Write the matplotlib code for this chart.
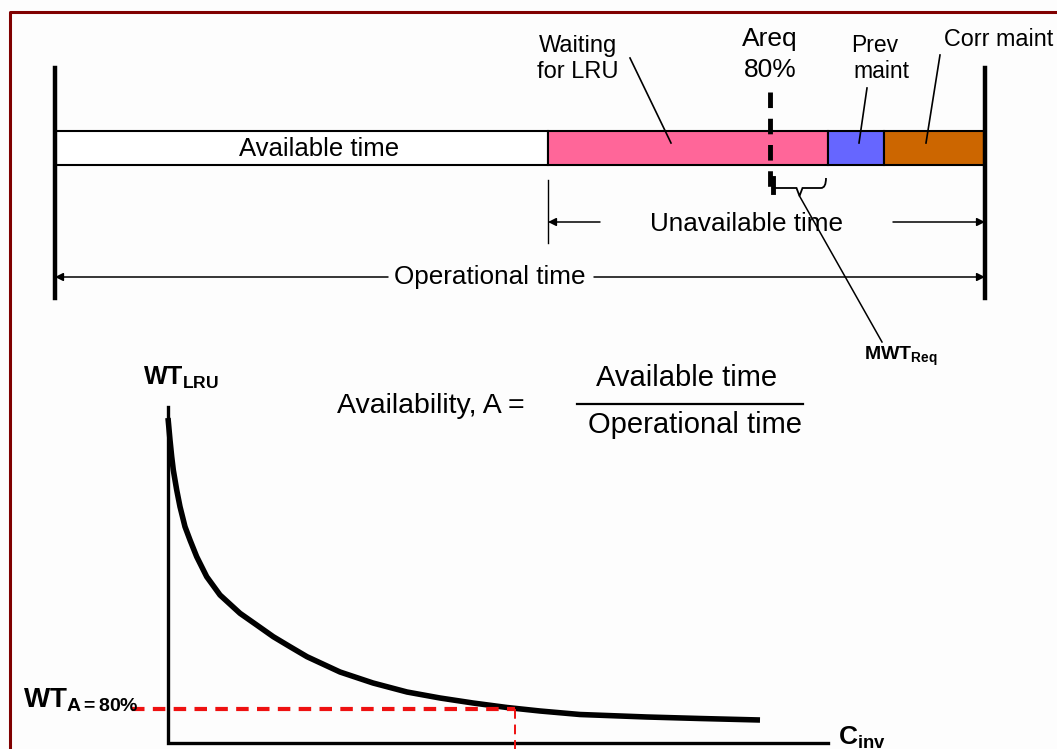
import matplotlib
matplotlib.use("Agg")
import matplotlib.pyplot as plt
from matplotlib.path import Path
from matplotlib.patches import Rectangle, PathPatch

plt.rcParams['font.family'] = ['Liberation Sans', 'DejaVu Sans']
plt.rcParams['mathtext.fontset'] = 'custom'
plt.rcParams['mathtext.rm'] = 'Liberation Sans'
plt.rcParams['mathtext.it'] = 'Liberation Sans'
plt.rcParams['mathtext.bf'] = 'Liberation Sans:bold'

# timeline segments (pixel lengths along the operational time bar)
seg_names = ["Available time", "Waiting for LRU", "Prev maint", "Corr maint"]
seg_lengths = [493, 280, 56, 101]
seg_colors = ["white", "#FF6699", "#6666FF", "#CC6600"]
areq_pos = 770  # Areq 80% marker on the timeline

# waiting time vs inventory cost curve
curve_x = [168, 170, 171.7, 173.3, 176.7, 180, 185, 190, 196.7, 206.7, 220, 240,
           256.7, 273.3, 290, 307, 340, 373, 407, 440, 473, 507, 540, 580, 647,
           700, 760]
curve_y = [418, 440, 456.7, 470, 490, 506.7, 526.7, 540, 556.7, 576.7, 595, 613.3,
           625, 636.7, 646.7, 656.7, 672, 683, 692, 698, 703, 707.5, 711, 714.5,
           717, 718.5, 720]
wt_80 = 709
cinv_80 = 515

fig = plt.figure(figsize=(10.57, 7.49), dpi=100)
ax = fig.add_axes([0, 0, 1, 1])
ax.set_xlim(0, 1057)
ax.set_ylim(749, 0)
ax.axis('off')
fig.patch.set_facecolor('#FDFDFD')

# frame
ax.plot([10, 10, 1057], [749, 12, 12], color='#800000', lw=2.2, solid_capstyle='butt')

# ---------- timeline ----------
x0 = 55
bar_top, bar_h = 131, 34
left = x0
for name, w, c in zip(seg_names, seg_lengths, seg_colors):
    ax.add_patch(Rectangle((left, bar_top), w, bar_h, facecolor=c, edgecolor='black', lw=1.5))
    left += w
x_end = left
ax.plot([x0, x0], [68, 298], color='black', lw=3.2)
ax.plot([x_end, x_end], [68, 298], color='black', lw=3.2)

ax.text(319, 149, "Available time", ha='center', va='center', fontsize=18.5)

# Areq dashed marker
ax.plot([areq_pos, areq_pos], [92, 190], color='black', lw=3.5, dashes=(3.2, 2.2))
ax.text(areq_pos, 39, "Areq", ha='center', va='center', fontsize=19)
ax.text(areq_pos, 70, "80%", ha='center', va='center', fontsize=19)

# labels with leader lines
ax.text(578, 46, "Waiting", ha='center', va='center', fontsize=17)
ax.text(578, 72, "for LRU", ha='center', va='center', fontsize=17)
ax.plot([630, 671], [58, 143], color='black', lw=1.2)

ax.text(875, 46, "Prev", ha='center', va='center', fontsize=16.5)
ax.text(881, 72, "maint", ha='center', va='center', fontsize=16.5)
ax.plot([867, 859], [88, 143], color='black', lw=1.2)

ax.text(999, 40, "Corr maint", ha='center', va='center', fontsize=16.8)
ax.plot([940, 926], [55, 143], color='black', lw=1.2)

# brace below the bar between Areq and end of waiting
bx0 = areq_pos + 3
bx1 = x0 + seg_lengths[0] + seg_lengths[1] - 2
bm = (bx0 + bx1) / 2
verts = [(bx0, 188), (bm - 6, 188), (bm - 3, 188), (bm - 3, 188), (bm, 196),
         (bm + 3, 188), (bm + 3, 188), (bx1 - 5, 188), (bx1, 188), (bx1, 178)]
codes = [Path.MOVETO, Path.LINETO, Path.CURVE3, Path.CURVE3, Path.LINETO,
         Path.LINETO, Path.LINETO, Path.LINETO, Path.CURVE3, Path.CURVE3]
ax.add_patch(PathPatch(Path(verts, codes), fill=False, edgecolor='black', lw=1.3))
ax.plot([bx0, bx0], [178, 192], color='black', lw=3.5)
ax.plot([bm, 882], [196, 342], color='black', lw=1.1)
ax.text(864, 356, r"$\mathbf{MWT}_{\mathbf{Req}}$", ha='left', va='center', fontsize=14)

# unavailable time dimension
ux0 = x0 + seg_lengths[0]
ax.plot([ux0, ux0], [180, 243], color='black', lw=1.0)
arw = dict(arrowstyle='-|>', color='black', lw=1.1, mutation_scale=12, shrinkA=0, shrinkB=0)
ax.annotate("", xy=(ux0, 222), xytext=(600, 222), arrowprops=arw)
ax.annotate("", xy=(x_end, 222), xytext=(893, 222), arrowprops=arw)
ax.text(746, 224, "Unavailable time", ha='center', va='center', fontsize=18.8)

# operational time dimension
ax.annotate("", xy=(x0, 277), xytext=(388, 277), arrowprops=arw)
ax.annotate("", xy=(x_end, 277), xytext=(594, 277), arrowprops=arw)
ax.text(490, 277, "Operational time", ha='center', va='center', fontsize=18.8)

# ---------- availability formula ----------
ax.text(337, 406, "Availability, A =", ha='left', va='center', fontsize=20.5)
ax.text(687, 378, "Available time", ha='center', va='center', fontsize=21)
ax.plot([577, 803], [404, 404], color='black', lw=1.6)
ax.text(695, 425, "Operational time", ha='center', va='center', fontsize=21)

# ---------- WT vs C_inv plot ----------
ax.plot([168, 168, 828], [407, 743, 743], color='black', lw=2.4, solid_joinstyle='miter')
ax.plot(curve_x, curve_y, color='black', lw=4, solid_capstyle='butt', solid_joinstyle='round')
ax.text(143, 378, r"$\mathbf{WT}_{\mathbf{LRU}}$", ha='left', va='center', fontsize=18)
ax.text(838, 738, r"$\mathbf{C}_{\mathbf{inv}}$", ha='left', va='center', fontsize=19)

ax.plot([132, cinv_80], [wt_80, wt_80], color='#EE1111', lw=3, dashes=(3, 2))
ax.plot([cinv_80, cinv_80], [wt_80, 749], color='#EE1111', lw=1.4, dashes=(5, 3))
ax.text(23, 700, r"$\mathbf{WT}_{\mathbf{A=80\%}}$", ha='left', va='center', fontsize=20)

fig.savefig("out.png", dpi=100, facecolor=fig.get_facecolor())
